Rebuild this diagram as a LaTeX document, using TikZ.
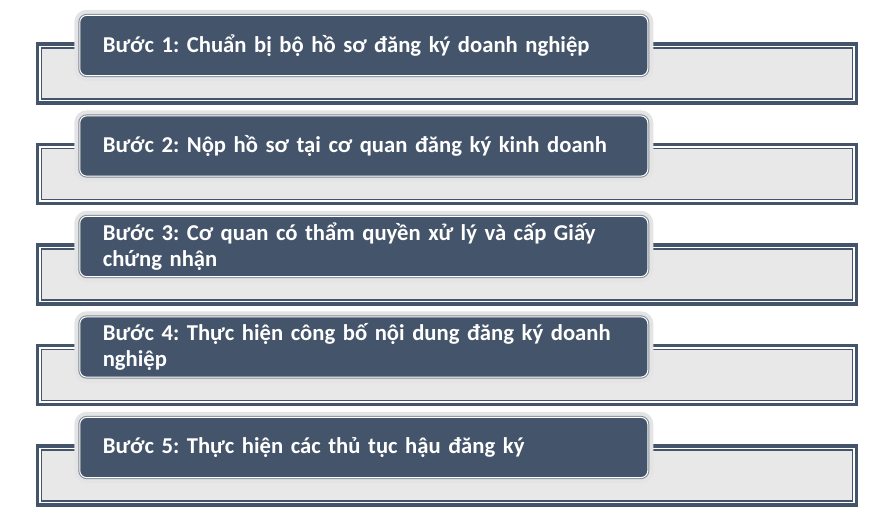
\documentclass[tikz,border=0pt]{standalone}
\usepackage{fontspec}
\setmainfont{Carlito}
\usepackage{xcolor}

\definecolor{slate}{HTML}{44546A}
\definecolor{paper}{HTML}{E8E8E8}
\definecolor{halo}{HTML}{E4E4E4}
\definecolor{rim}{HTML}{7F8A9A}

\tikzset{
  backbox/.style={rectangle, inner sep=0pt, outer sep=0pt,
    minimum width=607.9pt, minimum height=38.4pt,
    fill=paper, draw=slate, line width=1.1pt,
    preaction={draw=slate, line width=8.6pt},
    preaction={draw=white, line width=3.4pt}},
  stepbox/.style={rectangle, rounded corners=5.25pt, outer sep=0pt,
    minimum width=426pt, minimum height=45.2pt,
    inner xsep=17.25pt, text width=391.5pt, align=left,
    fill=slate, draw=white, line width=0.75pt,
    preaction={draw=halo, line width=8.25pt},
    preaction={draw=rim, line width=2.25pt},
    text=white, font=\fontsize{17}{20}\selectfont\bfseries\frenchspacing}
}

\begin{document}
\begin{tikzpicture}[x=0.75pt,y=-0.75pt]
    \useasboundingbox (0,0) rectangle (887,525);
    \node[backbox] (b1) at (447,73.5) {};
    \node[stepbox] (s1) at (363.8,45.5) {Bước 1: Chuẩn bị bộ hồ sơ đăng ký doanh nghiệp};
    \node[backbox] (b2) at (447,174) {};
    \node[stepbox] (s2) at (363.8,146) {Bước 2: Nộp hồ sơ tại cơ quan đăng ký kinh doanh};
    \node[backbox] (b3) at (447,274.5) {};
    \node[stepbox] (s3) at (363.8,246.5) {Bước 3: Cơ quan có thẩm quyền xử lý và cấp Giấy\\chứng nhận};
    \node[backbox] (b4) at (447,375) {};
    \node[stepbox] (s4) at (363.8,347) {Bước 4: Thực hiện công bố nội dung đăng ký doanh\\nghiệp};
    \node[backbox] (b5) at (447,475.5) {};
    \node[stepbox] (s5) at (363.8,447.5) {Bước 5: Thực hiện các thủ tục hậu đăng ký};
\end{tikzpicture}
\end{document}
